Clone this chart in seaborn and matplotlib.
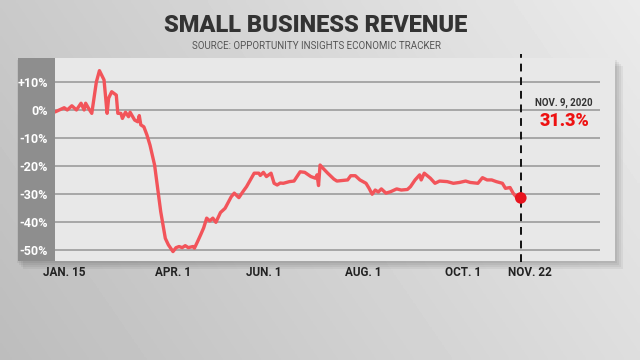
import numpy as np
import pandas as pd
import matplotlib
matplotlib.use("Agg")
import matplotlib.pyplot as plt
from matplotlib.patches import Rectangle
import seaborn as sns

# ---- data (day of year 2020, % change in small business revenue) ----
days = [10, 16, 18, 21, 24, 27, 29, 30, 32, 34, 37, 39, 42, 44, 45, 47, 50, 51, 53, 54,
        56, 58, 59, 62, 64, 65, 66, 68, 70, 72, 75, 77, 79, 82, 84, 87, 89, 91, 93, 95,
        97, 100, 101, 103, 105, 107, 109, 111, 113, 115, 118, 121, 125, 127, 130, 133, 135, 140, 143, 144,
        146, 148, 151, 153, 155, 157, 159, 163, 166, 170, 173, 177, 180, 181, 182, 183, 185, 188, 192, 194,
        201, 203, 206, 209, 213, 215, 217, 219, 221, 223, 226, 229, 233, 236, 240, 242, 245, 248, 249, 251,
        255, 258, 261, 266, 270, 274, 278, 281, 286, 289, 292, 295, 298, 302, 304, 307, 309, 311, 314]
revenue = [-0.7, 0.8, 0.0, 1.5, 0.0, 2.4, 0.0, 2.4, 0.5, -1.2, 10.0, 14.0, 10.7, -1.2, 4.2, 6.5, 5.3, -1.2, -1.2, -3.0,
           -0.8, -2.4, -0.8, -3.6, -4.2, -2.0, -5.3, -6.0, -8.9, -12.5, -19.6, -27.9, -36.2, -45.7, -48.0, -50.4, -49.0, -48.6, -49.0, -48.3,
           -49.0, -48.6, -49.2, -46.9, -44.5, -42.0, -38.5, -39.5, -38.5, -40.0, -36.5, -35.0, -30.9, -29.6, -31.2, -28.8, -27.3, -22.5, -22.5, -23.3,
           -22.2, -23.7, -22.5, -26.1, -26.7, -26.0, -26.1, -25.5, -25.3, -22.0, -22.2, -23.7, -24.3, -23.1, -26.9, -19.6, -20.8, -22.5, -24.6, -25.3,
           -24.9, -23.4, -23.4, -24.9, -26.1, -27.9, -30.0, -28.5, -29.2, -28.1, -29.6, -29.1, -28.1, -28.5, -28.3, -27.3, -24.9, -23.1, -24.9, -22.5,
           -24.3, -26.1, -25.3, -25.5, -26.1, -25.8, -25.3, -25.8, -26.1, -24.1, -24.9, -24.9, -25.5, -26.1, -27.9, -27.6, -29.6, -30.9, -31.3]
last_day = [314]
last_value = [-31.3]
y_ticks = [10, 0, -10, -20, -30, -40, -50]
y_tick_labels = ["+10%", "0%", "-10%", "-20%", "-30%", "-40%", "-50%"]
x_ticks = [16, 87, 146, 211, 276, 320]
x_tick_labels = ["JAN. 15", "APR. 1", "JUN. 1", "AUG. 1", "OCT. 1", "NOV. 22"]
title = "SMALL BUSINESS REVENUE"
subtitle = "SOURCE: OPPORTUNITY INSIGHTS ECONOMIC TRACKER"
note_date = "NOV. 9, 2020"
note_value = "31.3%"

df = pd.DataFrame({"day": days, "revenue": revenue})

sns.set_theme(style="white")
plt.rcParams["font.family"] = ["Roboto", "DejaVu Sans"]

W, H = 640, 360
fig = plt.figure(figsize=(6.4, 3.6), dpi=100)

# background gradient
bg = fig.add_axes([0, 0, 1, 1])
bg.set_zorder(0)
gx = np.linspace(0, 1, 200)[None, :]
gy = np.linspace(0, 1, 120)[:, None]
grad = 0.74 + 0.13 * gx + 0.05 * (1 - gy)
bg.imshow(grad, cmap="gray", vmin=0, vmax=1, aspect="auto", extent=[0, 1, 0, 1], origin="upper")
bg.set_xlim(0, 1)
bg.set_ylim(0, 1)
bg.set_axis_off()

def fx(px):
    return px / W

def fy(py):
    return 1 - py / H

# panel with shadow (drawn in background axes, which spans the figure)
for i in range(4):
    d = 2 + i * 2
    bg.add_patch(Rectangle((fx(15 + d), fy(261 + d)), fx(600), (261 - 58) / H,
                           facecolor="black", alpha=0.05, edgecolor="none", zorder=2))
bg.add_patch(Rectangle((fx(18), fy(261)), fx(597), (261 - 58) / H,
                       facecolor="#e8e8e8", edgecolor="none", zorder=3))
bg.add_patch(Rectangle((fx(18), fy(261)), fx(37), (261 - 58) / H,
                       facecolor="#8e8e8e", edgecolor="none", zorder=4))

ax = fig.add_axes([fx(55), fy(260), fx(600 - 55), (260 - 58) / H])
ax.set_zorder(5)
ax.set_facecolor("none")

for v in y_ticks:
    ax.axhline(v, color="#9c9c9c", lw=1.2, zorder=1)

sns.lineplot(data=df, x="day", y="revenue", ax=ax, color="#f2545a", lw=2.4, zorder=3)
ax.axvline(last_day[0], ymin=-0.01, ymax=1.02, color="#111111", lw=1.4, ls=(0, (4, 3)),
           clip_on=False, zorder=4)
sns.scatterplot(x=last_day, y=last_value, ax=ax, color="#e8141e", s=70, edgecolor="none", zorder=5)

ax.set_xlim(10, 365.7)
ax.set_ylim(-53.4, 18.5)
ax.set_yticks(y_ticks)
ax.set_yticklabels(y_tick_labels, color="white", fontweight="bold", fontsize=9)
ax.set_xticks(x_ticks)
ax.set_xticklabels(x_tick_labels, color="#222222", fontweight="bold", fontsize=8.5)
ax.tick_params(axis="y", length=0, pad=5)
ax.tick_params(axis="x", length=0, pad=4)
ax.set_xlabel("")
ax.set_ylabel("")
for s in ax.spines.values():
    s.set_visible(False)

fig.text(fx(316), fy(25), title, ha="center", va="center", fontsize=17,
         fontweight="black", color="#333333")
fig.text(fx(317), fy(46), subtitle, ha="center", va="center", fontsize=7, color="#555555")
fig.text(fx(564), fy(103), note_date, ha="center", va="center", fontsize=7,
         fontweight="bold", color="#333333")
fig.text(fx(565), fy(121), note_value, ha="center", va="center", fontsize=13,
         fontweight="black", color="#ee1111")

fig.savefig("out.png", dpi=100)
